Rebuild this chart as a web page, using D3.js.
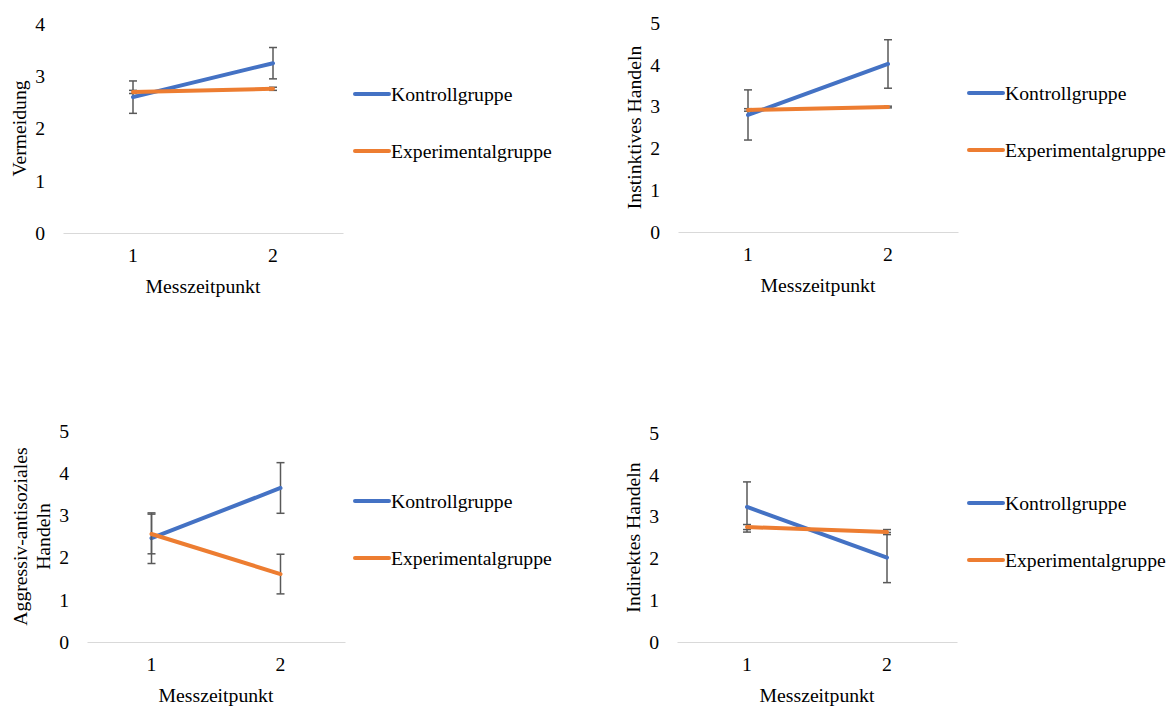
<!DOCTYPE html>
<html>
<head>
<meta charset="utf-8">
<script src="https://cdn.jsdelivr.net/npm/d3@7"></script>
<style>
  body { margin: 0; background: #fff; }
</style>
</head>
<body>
<div id="chart"></div>
<script>
// data
const categories = [1, 2]
const seriesNames = ['Kontrollgruppe', 'Experimentalgruppe']
const yTitles = [['Vermeidung'], ['Instinktives Handeln'], ['Aggressiv-antisoziales', 'Handeln'], ['Indirektes Handeln']]
const yMax = [4, 5, 5, 5]
const kontrollMeans = [[2.6, 3.25], [2.8, 4.02], [2.46, 3.65], [3.23, 2.02]]
const kontrollErrors = [[0.31, 0.3], [0.6, 0.58], [0.6, 0.6], [0.6, 0.6]]
const experimentalMeans = [[2.7, 2.76], [2.92, 2.99], [2.56, 1.61], [2.75, 2.63]]
const experimentalErrors = [[0.03, 0.03], [0.03, 0.02], [0.47, 0.47], [0.06, 0.06]]

const colors = ['#4472C4', '#ED7D31']
const fontSize = 19.7
const fontFamily = "'Liberation Serif', 'Times New Roman', serif"

// plot boxes of the four panels
const layout = [
  { left: 63, right: 343, top: 24, bottom: 233, legendX: 355 },
  { left: 678, right: 958, top: 23, bottom: 232, legendX: 969 },
  { left: 87, right: 345, top: 431, bottom: 642, legendX: 355 },
  { left: 677, right: 957, top: 433, bottom: 642, legendX: 969 }
]

const svg = d3
  .select('#chart')
  .append('svg')
  .attr('width', 1175)
  .attr('height', 706)
  .style('font-family', fontFamily)

svg.append('rect').attr('width', 1175).attr('height', 706).attr('fill', '#fff')

layout.forEach(function(box, i) {
  const g = svg.append('g')

  const xPositionScale = d3
    .scaleBand()
    .domain(categories)
    .range([box.left, box.right])
    .padding(0)

  const yPositionScale = d3
    .scaleLinear()
    .domain([0, yMax[i]])
    .range([box.bottom, box.top])

  const cx = d => xPositionScale(d) + xPositionScale.bandwidth() / 2

  // y axis labels
  const yAxis = d3
    .axisLeft(yPositionScale)
    .ticks(yMax[i])
    .tickFormat(d3.format('d'))
    .tickSize(0)
    .tickPadding(18)
  const yg = g
    .append('g')
    .attr('transform', 'translate(' + box.left + ',0)')
    .call(yAxis)
    .attr('font-family', null)
    .attr('font-size', fontSize)
  yg.select('.domain').remove()
  yg.selectAll('text').attr('fill', '#000')

  // x axis
  const xAxis = d3.axisBottom(xPositionScale).tickSize(0).tickPadding(15)
  const xg = g
    .append('g')
    .attr('transform', 'translate(0,' + box.bottom + ')')
    .call(xAxis)
    .attr('font-family', null)
    .attr('font-size', fontSize)
  xg.select('.domain').attr('stroke', '#d9d9d9').attr('stroke-width', 1)
  xg.selectAll('text').attr('fill', '#000')

  g.append('text')
    .attr('x', (box.left + box.right) / 2)
    .attr('y', box.bottom + 60)
    .attr('text-anchor', 'middle')
    .attr('font-size', fontSize)
    .text('Messzeitpunkt')

  // y title (one or two lines, rotated)
  const lines = yTitles[i]
  const midY = (box.top + box.bottom) / 2
  lines.forEach(function(line, j) {
    const bx = box.left - 37 - (lines.length - 1 - j) * 23
    g.append('text')
      .attr('transform', 'translate(' + bx + ',' + midY + ') rotate(-90)')
      .attr('text-anchor', 'middle')
      .attr('font-size', fontSize)
      .text(line)
  })

  const series = [
    { means: kontrollMeans[i], errors: kontrollErrors[i] },
    { means: experimentalMeans[i], errors: experimentalErrors[i] }
  ]

  series.forEach(function(s, k) {
    const pts = categories.map((c, n) => ({ c: c, v: s.means[n], e: s.errors[n] }))

    // error bars
    const eb = g.selectAll('.err-' + k).data(pts).enter().append('g')
    eb.append('line')
      .attr('x1', d => cx(d.c))
      .attr('x2', d => cx(d.c))
      .attr('y1', d => yPositionScale(d.v - d.e))
      .attr('y2', d => yPositionScale(d.v + d.e))
      .attr('stroke', '#595959')
      .attr('stroke-width', 1.5)
    ;[-1, 1].forEach(function(sign) {
      eb.append('line')
        .attr('x1', d => cx(d.c) - 4)
        .attr('x2', d => cx(d.c) + 4)
        .attr('y1', d => yPositionScale(d.v + sign * d.e))
        .attr('y2', d => yPositionScale(d.v + sign * d.e))
        .attr('stroke', '#595959')
        .attr('stroke-width', 1.5)
    })

    const line = d3
      .line()
      .x(d => cx(d.c))
      .y(d => yPositionScale(d.v))
    g.append('path')
      .datum(pts)
      .attr('d', line)
      .attr('fill', 'none')
      .attr('stroke', colors[k])
      .attr('stroke-width', 4)
      .attr('stroke-linecap', 'round')

    // legend
    const ly = box.top + 70 + k * 57
    g.append('line')
      .attr('x1', box.legendX)
      .attr('x2', box.legendX + 34)
      .attr('y1', ly)
      .attr('y2', ly)
      .attr('stroke', colors[k])
      .attr('stroke-width', 4)
      .attr('stroke-linecap', 'round')
    g.append('text')
      .attr('x', box.legendX + 36)
      .attr('y', ly)
      .attr('dy', '0.35em')
      .attr('font-size', fontSize)
      .text(seriesNames[k])
  })
})
</script>
</body>
</html>
